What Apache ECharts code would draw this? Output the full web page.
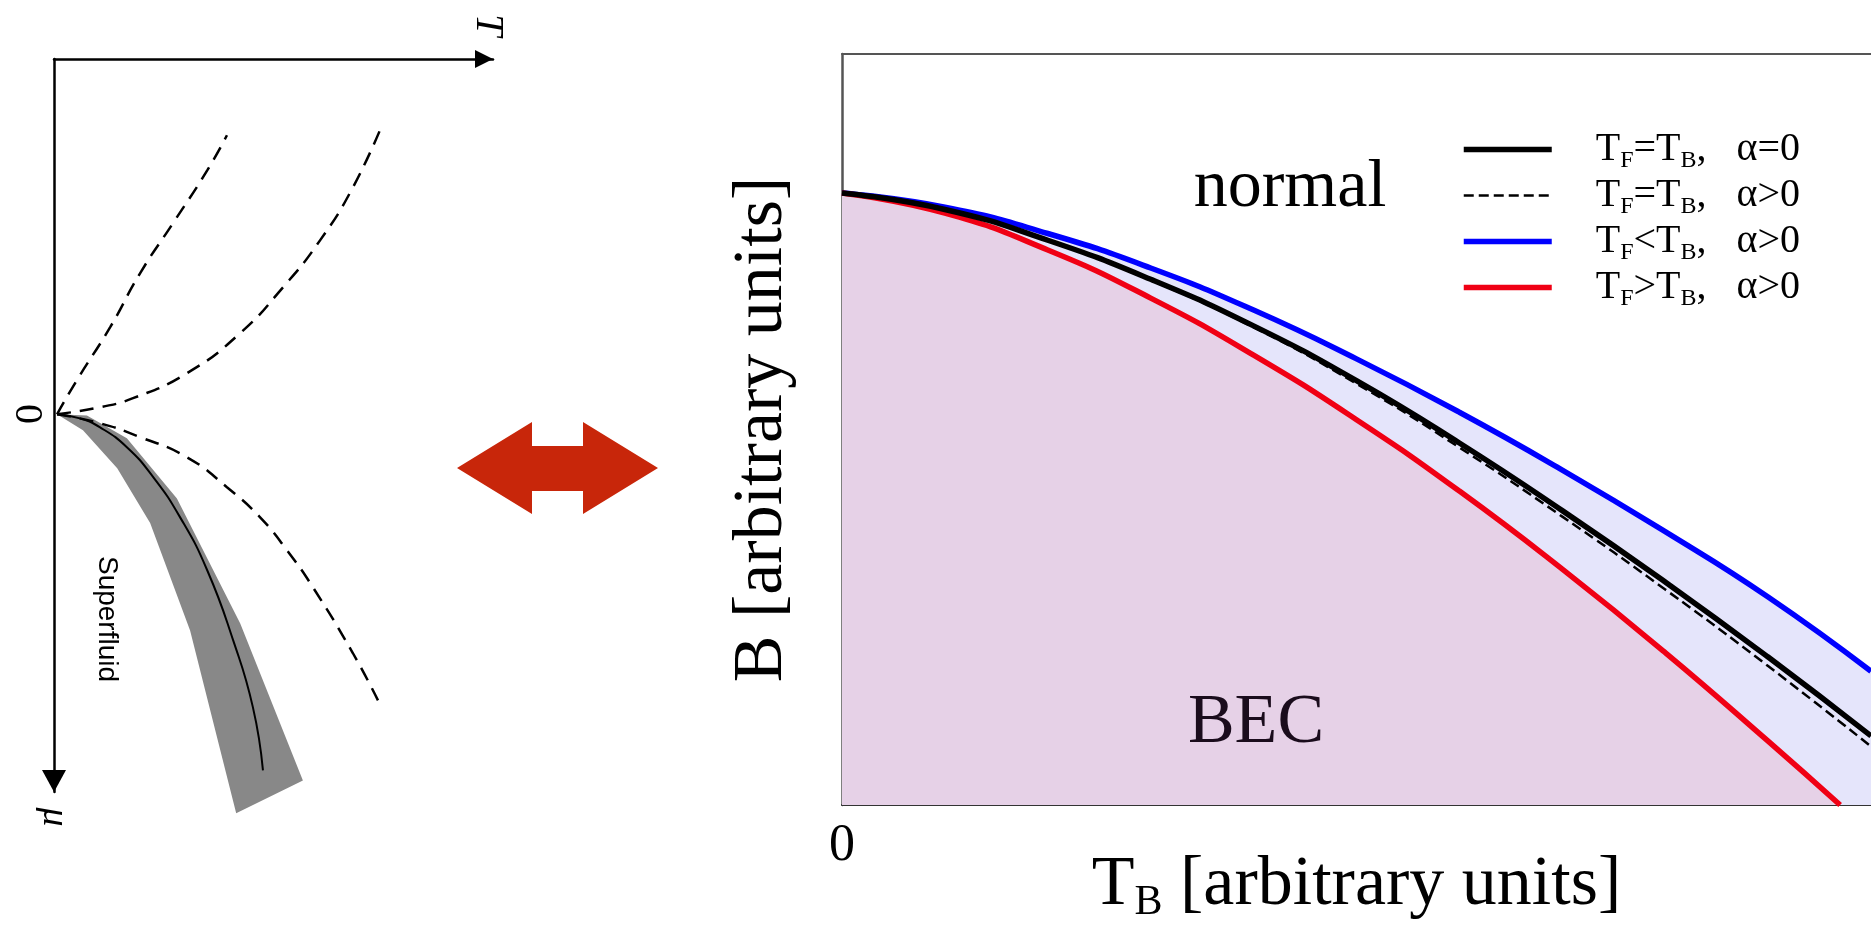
<!DOCTYPE html>
<html>
<head>
<meta charset="utf-8">
<script src="https://cdn.jsdelivr.net/npm/echarts@6/dist/echarts.min.js"></script>
<style>
  html, body { margin: 0; padding: 0; background: #fff; }
  #chart { width: 1871px; height: 928px; }
</style>
</head>
<body>
<div id="chart"></div>
<script>
// right panel: B vs T_B, arbitrary units (0..1 over the visible frame)
const gridT  = [0, 0.1, 0.2, 0.3, 0.4, 0.5, 0.6, 0.7, 0.8, 0.9, 1.0];
const blueB  = [0.815, 0.796, 0.761, 0.715, 0.659, 0.594, 0.523, 0.446, 0.364, 0.277, 0.178];
const blackB = [0.815, 0.793, 0.752, 0.700, 0.638, 0.565, 0.482, 0.392, 0.297, 0.197, 0.092];
const dashB  = [0.815, 0.793, 0.752, 0.699, 0.636, 0.561, 0.476, 0.384, 0.287, 0.185, 0.078];
const redT   = [0, 0.1, 0.2, 0.3, 0.4, 0.5, 0.6, 0.7, 0.8, 0.9, 0.97];
const redB   = [0.815, 0.788, 0.739, 0.675, 0.599, 0.513, 0.418, 0.314, 0.203, 0.085, 0];

const legendNames = ['TF=TB, α=0', 'TF=TB, α>0', 'TF<TB, α>0', 'TF>TB, α>0'];
const legendRel   = ['=', '=', '<', '>'];
const legendAlpha = ['=0', '>0', '>0', '>0'];

// left panel: schematic mu-T diagram (T across, mu downwards)
const dash1T  = [0.007, 0.052, 0.128, 0.196, 0.271, 0.349, 0.394];
const dash1Mu = [0, -0.091, -0.233, -0.377, -0.511, -0.652, -0.746];
const dash2T  = [0.007, 0.105, 0.180, 0.303, 0.424, 0.522, 0.606, 0.681, 0.749];
const dash2Mu = [0, -0.019, -0.043, -0.110, -0.217, -0.340, -0.465, -0.607, -0.778];
const dash3T  = [0.007, 0.105, 0.196, 0.303, 0.394, 0.469, 0.531, 0.590, 0.681, 0.738];
const dash3Mu = [0, 0.024, 0.061, 0.115, 0.195, 0.275, 0.364, 0.463, 0.639, 0.765];
const sfT  = [0.007, 0.059, 0.105, 0.166, 0.226, 0.287, 0.349, 0.408, 0.453, 0.476];
const sfMu = [0, 0.011, 0.035, 0.088, 0.168, 0.275, 0.417, 0.604, 0.783, 0.952];
const bandT  = [0.007, 0.075, 0.166, 0.280, 0.424, 0.567, 0.415, 0.310, 0.219, 0.144, 0.066];
const bandMu = [0, 0.003, 0.064, 0.225, 0.559, 0.979, 1.067, 0.578, 0.291, 0.144, 0.043];

const serif = 'Liberation Serif';
const zip = (xs, ys) => xs.map((x, i) => [x, ys[i]]);

const chart = echarts.init(document.getElementById('chart'));

chart.setOption({
  animation: false,
  backgroundColor: '#fff',
  grid: [
    { left: 842, top: 54, right: 0, bottom: 123, outerBoundsMode: 'none', containLabel: false },
    { left: 54, top: 59, width: 439, height: 733, outerBoundsMode: 'none', containLabel: false }
  ],
  xAxis: [
    {
      gridIndex: 0, type: 'value', min: 0, max: 1, interval: 1,
      axisLine: { onZero: false, lineStyle: { color: '#333', width: 2 } },
      axisTick: { show: false },
      splitLine: { show: false },
      axisLabel: {
        formatter: v => (v === 0 ? '0' : ''),
        fontFamily: serif, fontSize: 52, color: '#000', margin: 15
      },
      name: '{m|T}{s|B}{m| [arbitrary units]}',
      nameLocation: 'middle',
      nameGap: 46,
      nameMoveOverlap: false,
      nameTextStyle: {
        fontFamily: serif, fontSize: 70, color: '#000',
        rich: {
          m: { fontFamily: serif, fontSize: 70, lineHeight: 70, color: '#000' },
          s: { fontFamily: serif, fontSize: 42, lineHeight: 1, color: '#000', padding: [33, 0, 0, 0] }
        }
      }
    },
    {
      gridIndex: 0, type: 'value', position: 'top', min: 0, max: 1,
      axisLine: { onZero: false, lineStyle: { color: '#555', width: 2 } },
      axisTick: { show: false }, axisLabel: { show: false }, splitLine: { show: false }
    },
    {
      gridIndex: 1, type: 'value', position: 'top', min: 0, max: 1,
      axisLine: {
        onZero: false, symbol: ['none', 'triangle'], symbolSize: [18, 18], symbolOffset: [0, -9],
        lineStyle: { color: '#000', width: 2.5 }
      },
      axisTick: { show: false }, axisLabel: { show: false }, splitLine: { show: false }
    }
  ],
  yAxis: [
    {
      gridIndex: 0, type: 'value', min: 0, max: 1,
      axisLine: { show: true, onZero: false, lineStyle: { color: '#555', width: 2.5 } },
      axisTick: { show: false }, axisLabel: { show: false }, splitLine: { show: false },
      name: 'B [arbitrary units]',
      nameLocation: 'middle',
      nameGap: 44,
      nameMoveOverlap: false,
      nameTextStyle: { fontFamily: serif, fontSize: 70, lineHeight: 70, color: '#000' }
    },
    {
      // inverse axis: the arrow at the geometric bottom is the "start" symbol
      gridIndex: 1, type: 'value', inverse: true, min: -0.95, max: 1.01,
      axisLine: {
        show: true, onZero: false, symbol: ['triangle', 'none'], symbolSize: [24, 22], symbolOffset: [11, 0],
        lineStyle: { color: '#000', width: 2.5 }
      },
      axisTick: { show: false }, axisLabel: { show: false }, splitLine: { show: false }
    }
  ],
  legend: {
    data: [
      { name: legendNames[0], itemStyle: { opacity: 0 }, lineStyle: { width: 5.5, color: '#000' } },
      { name: legendNames[1], itemStyle: { opacity: 0 }, lineStyle: { width: 2.5, color: '#000', type: [10, 5] } },
      { name: legendNames[2], itemStyle: { opacity: 0 }, lineStyle: { width: 5.5, color: '#0000ff' } },
      { name: legendNames[3], itemStyle: { opacity: 0 }, lineStyle: { width: 5.5, color: '#f00014' } }
    ],
    orient: 'vertical',
    left: 1461, top: 126,
    padding: 0,
    itemWidth: 88, itemHeight: 40, itemGap: -1,
    selectedMode: false,
    formatter: name => {
      const i = legendNames.indexOf(name);
      return '{p|T}{s|F}{m|' + legendRel[i] + 'T}{s|B}{m|,   α' + legendAlpha[i] + '}';
    },
    textStyle: {
      fontFamily: serif, fontSize: 40, color: '#000',
      rich: {
        p: { fontFamily: serif, fontSize: 40, lineHeight: 40, color: '#000', padding: [0, 0, 0, 39] },
        m: { fontFamily: serif, fontSize: 40, lineHeight: 40, color: '#000' },
        s: { fontFamily: serif, fontSize: 24, lineHeight: 1, color: '#000', padding: [23, 0, 0, 0] }
      }
    }
  },
  graphic: [
    {
      type: 'polygon', silent: true,
      shape: { points: [[457, 468], [532, 422], [532, 446], [583, 446], [583, 422], [658, 468],
                        [583, 514], [583, 491], [532, 491], [532, 514]] },
      style: { fill: '#c8260a' }
    },
    { type: 'text', x: 1290, y: 188, z: 10, style: { text: 'normal', fontFamily: serif, fontSize: 68, fill: '#000', align: 'center', verticalAlign: 'middle' } },
    { type: 'text', x: 1256, y: 724, z: 10, style: { text: 'BEC', fontFamily: serif, fontSize: 70, fill: '#1a0c1c', align: 'center', verticalAlign: 'middle' } },
    { type: 'text', x: 488, y: 25, rotation: -Math.PI / 2, style: { text: 'T', fontFamily: serif, fontStyle: 'italic', fontSize: 40, fill: '#000', align: 'center', verticalAlign: 'middle' } },
    { type: 'text', x: 54, y: 817, rotation: -Math.PI / 2, style: { text: 'μ', fontFamily: serif, fontStyle: 'italic', fontSize: 38, fill: '#000', align: 'center', verticalAlign: 'middle' } },
    { type: 'text', x: 26, y: 414, rotation: -Math.PI / 2, style: { text: '0', fontFamily: serif, fontSize: 40, fill: '#000', align: 'center', verticalAlign: 'middle' } },
    { type: 'text', x: 107, y: 619, rotation: -Math.PI / 2, style: { text: 'Superfluid', fontFamily: 'Liberation Sans', fontSize: 28, fill: '#000', align: 'center', verticalAlign: 'middle' } }
  ],
  series: [
    {
      name: legendNames[2], type: 'line', xAxisIndex: 0, yAxisIndex: 0,
      data: zip(gridT, blueB), smooth: true, symbol: 'none',
      lineStyle: { color: '#0000ff', width: 5.5 }, itemStyle: { color: '#0000ff' },
      areaStyle: { color: '#e5e5fb', opacity: 1 }, z: 2
    },
    {
      name: legendNames[3], type: 'line', xAxisIndex: 0, yAxisIndex: 0,
      data: zip(redT, redB), smooth: true, symbol: 'none',
      lineStyle: { color: '#f00014', width: 5.5 }, itemStyle: { color: '#f00014' },
      areaStyle: { color: '#e6d1e7', opacity: 1 }, z: 3
    },
    {
      name: legendNames[0], type: 'line', xAxisIndex: 0, yAxisIndex: 0,
      data: zip(gridT, blackB), smooth: true, symbol: 'none',
      lineStyle: { color: '#000', width: 5.5 }, itemStyle: { color: '#000' }, z: 4
    },
    {
      name: legendNames[1], type: 'line', xAxisIndex: 0, yAxisIndex: 0,
      data: zip(gridT, dashB), smooth: true, symbol: 'none',
      lineStyle: { color: '#000', width: 2.5, type: [10, 5] }, itemStyle: { color: '#000' }, z: 5
    },
    {
      type: 'custom', xAxisIndex: 2, yAxisIndex: 1, data: [[0, 0]], clip: false, silent: true, z: 1,
      renderItem: (params, api) => ({
        type: 'polygon',
        shape: { points: bandT.map((t, i) => api.coord([t, bandMu[i]])) },
        style: { fill: '#888888' }
      })
    },
    {
      type: 'line', xAxisIndex: 2, yAxisIndex: 1, data: zip(sfT, sfMu), smooth: true, symbol: 'none',
      lineStyle: { color: '#000', width: 2 }, z: 3
    },
    {
      type: 'line', xAxisIndex: 2, yAxisIndex: 1, data: zip(dash1T, dash1Mu), smooth: true, symbol: 'none',
      lineStyle: { color: '#000', width: 2.5, type: [14, 9] }, z: 3
    },
    {
      type: 'line', xAxisIndex: 2, yAxisIndex: 1, data: zip(dash2T, dash2Mu), smooth: true, symbol: 'none',
      lineStyle: { color: '#000', width: 2.5, type: [14, 9] }, z: 3
    },
    {
      type: 'line', xAxisIndex: 2, yAxisIndex: 1, data: zip(dash3T, dash3Mu), smooth: true, symbol: 'none',
      lineStyle: { color: '#000', width: 2.5, type: [14, 9] }, z: 3
    }
  ]
});
</script>
</body>
</html>
